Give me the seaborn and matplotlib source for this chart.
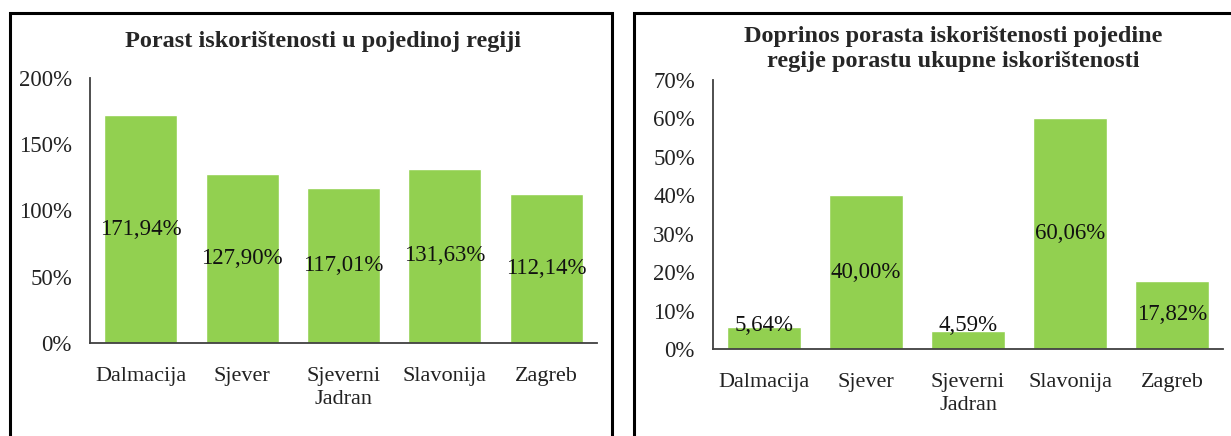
import matplotlib
matplotlib.use("Agg")
import matplotlib.pyplot as plt
import matplotlib.patches as patches
import seaborn as sns
import pandas as pd

regije = ["Dalmacija", "Sjever", "Sjeverni\nJadran", "Slavonija", "Zagreb"]
porast = [171.94, 127.90, 117.01, 131.63, 112.14]
doprinos = [5.64, 40.00, 4.59, 60.06, 17.82]

naslov_lijevo = "Porast iskorištenosti u pojedinoj regiji"
naslov_desno = "Doprinos porasta iskorištenosti pojedine\nregije porastu ukupne iskorištenosti"

sns.set_style("white")
plt.rcParams["font.family"] = ["Liberation Serif", "DejaVu Serif"]

zelena = "#92D050"

fig = plt.figure(figsize=(12.31, 4.36), dpi=100)
ax1 = fig.add_axes([90/1231, 1-343/436, (597-90)/1231, (343-78)/436])
ax2 = fig.add_axes([713/1231, 1-349/436, (1223-713)/1231, (349-80)/436])


def crtaj(ax, vrijednosti, ymax, korak, min_lbl):
    df = pd.DataFrame({"regija": regije, "v": vrijednosti})
    sns.barplot(data=df, x="regija", y="v", color=zelena, saturation=1,
                width=0.72, ax=ax)
    ax.set_ylim(0, ymax)
    ax.set_xlim(-0.5, len(regije) - 0.5)
    ticks = list(range(0, ymax + 1, korak))
    ax.set_yticks(ticks)
    ax.set_yticklabels([f"{t}%" for t in ticks])
    ax.set_xlabel("")
    ax.set_ylabel("")
    ax.tick_params(axis="y", length=0, labelsize=16.5, pad=13, colors="#222222")
    ax.tick_params(axis="x", length=0, labelsize=16, pad=17, colors="#222222")
    for lbl in ax.get_xticklabels():
        lbl.set_linespacing(1.3)
    for s in ["top", "right"]:
        ax.spines[s].set_visible(False)
    for s in ["left", "bottom"]:
        ax.spines[s].set_color("#404040")
        ax.spines[s].set_linewidth(1.3)
    for i, v in enumerate(vrijednosti):
        txt = f"{v:.2f}%".replace(".", ",")
        ax.text(i, max(v / 2, min_lbl), txt, ha="center", va="center",
                fontsize=16.5, color="#111111")


crtaj(ax1, porast, 200, 50, 0)
crtaj(ax2, doprinos, 70, 10, 6.2)

fig.text(323/1231, 1-42/436, naslov_lijevo, ha="center", va="center",
         fontsize=17.5, fontweight="bold")
fig.text(953/1231, 1-49/436, naslov_desno, ha="center", va="center",
         fontsize=17.5, fontweight="bold", linespacing=1.2)

# okviri oko grafova
fig.add_artist(patches.Rectangle((10/1231, -0.1), (612-10)/1231, 1.1-13/436,
                                 transform=fig.transFigure, fill=False,
                                 edgecolor="black", linewidth=2.2))
fig.add_artist(patches.Rectangle((634/1231, -0.1), 0.6, 1.1-13/436,
                                 transform=fig.transFigure, fill=False,
                                 edgecolor="black", linewidth=2.2))

fig.savefig("out.png", dpi=100)
